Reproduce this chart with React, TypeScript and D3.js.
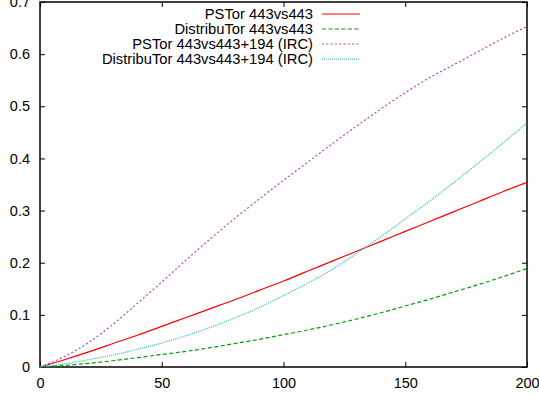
import { useEffect, useRef } from 'react'
import * as d3 from 'd3'

const xValues = [0, 10, 20, 30, 40, 50, 60, 70, 80, 90, 100, 110, 120, 130, 140, 150, 160, 170, 180, 190, 200]
const pstor = [0, 0.014, 0.029, 0.045, 0.061, 0.078, 0.095, 0.112, 0.129, 0.147, 0.165, 0.184, 0.203, 0.222, 0.241, 0.26, 0.279, 0.298, 0.317, 0.336, 0.354]
const distributor = [0, 0.003, 0.007, 0.012, 0.018, 0.024, 0.03, 0.037, 0.045, 0.053, 0.062, 0.071, 0.081, 0.092, 0.104, 0.117, 0.13, 0.144, 0.158, 0.173, 0.189]
const pstorIrc = [0, 0.02, 0.047, 0.082, 0.122, 0.163, 0.205, 0.246, 0.285, 0.322, 0.358, 0.393, 0.428, 0.462, 0.495, 0.526, 0.555, 0.58, 0.605, 0.63, 0.653]
const distributorIrc = [0, 0.006, 0.014, 0.023, 0.034, 0.046, 0.06, 0.076, 0.094, 0.114, 0.137, 0.161, 0.187, 0.218, 0.25, 0.284, 0.318, 0.354, 0.391, 0.429, 0.468]
const xTicks = [0, 50, 100, 150, 200]
const yTicks = [0, 0.1, 0.2, 0.3, 0.4, 0.5, 0.6, 0.7]

const series = [
  { name: 'PSTor 443vs443', values: pstor, color: '#ff0000', dash: null },
  { name: 'DistribuTor 443vs443', values: distributor, color: '#00a000', dash: '4,2.5' },
  { name: 'PSTor 443vs443+194 (IRC)', values: pstorIrc, color: '#c040c0', dash: '2,2.3' },
  { name: 'DistribuTor 443vs443+194 (IRC)', values: distributorIrc, color: '#30b8b8', dash: '1,1' },
]

export default function App() {
  const ref = useRef<SVGSVGElement>(null)

  useEffect(() => {
    const svg = d3.select(ref.current)
    svg.selectAll('*').remove()

    const left = 40, right = 527, top = 2, bottom = 367
    const font = '"Liberation Sans", Arial, sans-serif'
    const size = '14.5px'

    const x = d3.scaleLinear().domain([0, 200]).range([left, right])
    const y = d3.scaleLinear().domain([0, 0.7]).range([bottom, top])
    const fmt = (d: number) => (d === 0 ? '0' : d3.format('.1f')(d))

    const styleAxis = (g: any) => {
      g.select('.domain').remove()
      g.selectAll('line').attr('stroke', '#000')
      g.selectAll('text').attr('fill', '#000').style('font-family', font).style('font-size', size)
    }

    svg.append('g')
      .attr('transform', `translate(0,${bottom})`)
      .call(d3.axisBottom(x).tickValues(xTicks).tickSize(-5).tickPadding(11).tickFormat(d3.format('d')))
      .call(styleAxis)
    svg.append('g')
      .attr('transform', `translate(0,${top})`)
      .call(d3.axisTop(x).tickValues(xTicks).tickSize(-5).tickFormat(() => ''))
      .call(styleAxis)
    svg.append('g')
      .attr('transform', `translate(${left},0)`)
      .call(d3.axisLeft(y).tickValues(yTicks).tickSize(-5).tickPadding(10).tickFormat(fmt as any))
      .call(styleAxis)
    svg.append('g')
      .attr('transform', `translate(${right},0)`)
      .call(d3.axisRight(y).tickValues(yTicks).tickSize(-5).tickFormat(() => ''))
      .call(styleAxis)

    svg.append('rect')
      .attr('x', left).attr('y', top)
      .attr('width', right - left).attr('height', bottom - top)
      .attr('fill', 'none').attr('stroke', '#000').attr('stroke-width', 1.5)

    const line = d3.line<number>()
      .x((_, i) => x(xValues[i]))
      .y(d => y(d))
      .curve(d3.curveMonotoneX)

    series.forEach((s, i) => {
      const path = svg.append('path')
        .attr('d', line(s.values))
        .attr('fill', 'none')
        .attr('stroke', s.color)
        .attr('stroke-width', 1.2)
      if (s.dash) path.attr('stroke-dasharray', s.dash)

      const ly = 14 + i * 15
      svg.append('text')
        .attr('x', 313).attr('y', ly)
        .attr('dy', '0.35em')
        .attr('text-anchor', 'end')
        .style('font-family', font).style('font-size', '14.75px')
        .text(s.name)
      const l = svg.append('line')
        .attr('x1', 322).attr('x2', 360)
        .attr('y1', ly).attr('y2', ly)
        .attr('stroke', s.color).attr('stroke-width', 1.2)
      if (s.dash) l.attr('stroke-dasharray', s.dash)
    })
  }, [])

  return (
    <svg ref={ref} width={539} height={398}
      style={{ position: 'absolute', left: 0, top: 0, background: '#fff' }} />
  )
}
